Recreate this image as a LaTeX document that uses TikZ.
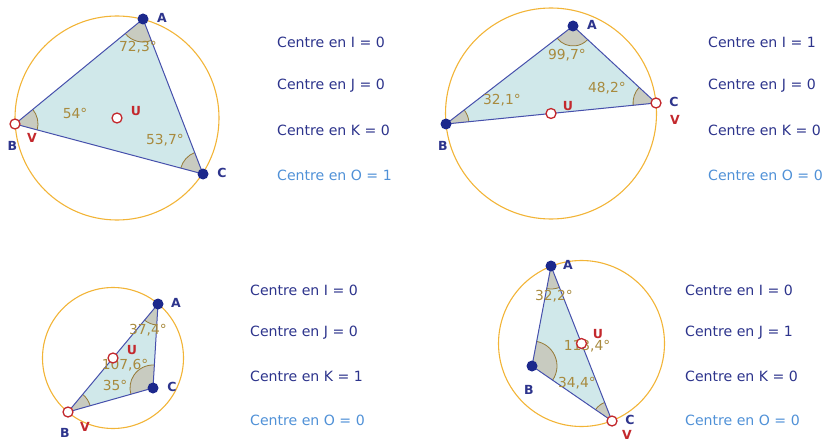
\documentclass[tikz,border=0pt]{standalone}
\usepackage{fontspec}
\setmainfont{DejaVu Sans}
\usetikzlibrary{angles}
\definecolor{navy}{RGB}{45,52,140}
\definecolor{lightb}{RGB}{80,145,215}
\definecolor{redc}{RGB}{195,40,45}
\definecolor{goldc}{RGB}{168,138,62}
\definecolor{orangec}{RGB}{242,180,55}
\definecolor{trifill}{RGB}{208,232,234}
\definecolor{edgec}{RGB}{70,80,172}
\definecolor{angfill}{RGB}{200,203,192}
\definecolor{arcc}{RGB}{150,122,55}
\definecolor{ptc}{RGB}{28,40,140}
\begin{document}
\begin{tikzpicture}[x=1pt,y=-1pt,
  circ/.style={draw=orangec, line width=1.1pt},
  tri/.style={fill=trifill},
  edge/.style={draw=edgec, line width=1pt, line join=round},
  ang/.style={draw=arcc, fill=angfill, angle radius=23pt, line width=0.8pt},
  angtxt/.style={text=goldc, font=\fontsize{13.8}{14}\selectfont, inner sep=0},
  fpt/.style={circle, fill=ptc, minimum size=11pt, inner sep=0},
  opt/.style={circle, draw=redc, fill=white, line width=1.3pt, minimum size=10pt, inner sep=0},
  lab/.style={text=navy, font=\bfseries\fontsize{12.5}{12}\selectfont, inner sep=0},
  rlab/.style={text=redc, font=\bfseries\fontsize{12.5}{12}\selectfont, inner sep=0},
  info/.style={text=navy, anchor=west, inner sep=0, font=\fontsize{14.1}{16}\selectfont},
  infoo/.style={info, text=lightb}]
\useasboundingbox (0,0) rectangle (824,441);

% ---------- top left ----------
\coordinate (A1) at (143,19);
\coordinate (B1) at (15,124);
\coordinate (C1) at (203,174);
\coordinate (U1) at (117,118);
\draw[circ] (U1) circle[radius=102pt];
\fill[tri] (A1) -- (B1) -- (C1) -- cycle;
\pic[ang] {angle = B1--A1--C1};
\pic[ang] {angle = C1--B1--A1};
\pic[ang] {angle = A1--C1--B1};
\draw[edge] (A1) -- (B1) -- (C1) -- cycle;
\node[angtxt] (a1) at (138,47) {72,3°};
\node[angtxt] (b1) at (75,113) {54°};
\node[angtxt] (c1) at (165,140) {53,7°};
\node[fpt] (pA1) at (A1) {};
\node[opt] (pB1) at (B1) {};
\node[fpt] (pC1) at (C1) {};
\node[opt] (pU1) at (U1) {};
\node[lab] (lA1) at (162,18) {A};
\node[lab] (lB1) at (12.5,146) {B};
\node[rlab] (lV1) at (32,138) {V};
\node[rlab] (lU1) at (136,111) {U};
\node[lab] (lC1) at (222,173) {C};
\node[info] (t11) at (277,42) {Centre en I = 0};
\node[info] (t12) at (277,86) {Centre en J = 0};
\node[info] (t13) at (277,130) {Centre en K = 0};
\node[infoo] (t14) at (277,175) {Centre en O = 1};

% ---------- top right ----------
\coordinate (A2) at (573,26);
\coordinate (B2) at (446,124);
\coordinate (C2) at (656,103);
\coordinate (U2) at (551,113.5);
\draw[circ] (U2) circle[radius=105.5pt];
\fill[tri] (A2) -- (B2) -- (C2) -- cycle;
\pic[ang, angle radius=20pt] {angle = B2--A2--C2};
\pic[ang] {angle = C2--B2--A2};
\pic[ang] {angle = A2--C2--B2};
\draw[edge] (A2) -- (B2) -- (C2) -- cycle;
\node[angtxt] (a2) at (567,55) {99,7°};
\node[angtxt] (b2) at (502,100) {32,1°};
\node[angtxt] (c2) at (607,88) {48,2°};
\node[fpt] (pA2) at (A2) {};
\node[fpt] (pB2) at (B2) {};
\node[opt] (pC2) at (C2) {};
\node[opt] (pU2) at (U2) {};
\node[lab] (lA2) at (592,25) {A};
\node[lab] (lB2) at (443,146) {B};
\node[lab] (lC2) at (674,102) {C};
\node[rlab] (lV2) at (675,120) {V};
\node[rlab] (lU2) at (568,106) {U};
\node[info] (t21) at (708,42) {Centre en I = 1};
\node[info] (t22) at (708,86) {Centre en J = 0};
\node[info] (t23) at (708,130) {Centre en K = 0};
\node[infoo] (t24) at (708,175) {Centre en O = 0};

% ---------- bottom left ----------
\coordinate (A3) at (158,304);
\coordinate (B3) at (68,412);
\coordinate (C3) at (153,388);
\coordinate (U3) at (113,358);
\draw[circ] (U3) circle[radius=70.5pt];
\fill[tri] (A3) -- (B3) -- (C3) -- cycle;
\pic[ang, angle radius=21pt] {angle = B3--A3--C3};
\pic[ang] {angle = C3--B3--A3};
\pic[ang] {angle = A3--C3--B3};
\draw[edge] (A3) -- (B3) -- (C3) -- cycle;
\node[angtxt] (a3) at (148,330) {37,4°};
\node[angtxt] (c3) at (125,365) {107,6°};
\node[angtxt] (b3) at (115,385) {35°};
\node[fpt] (pA3) at (A3) {};
\node[opt] (pB3) at (B3) {};
\node[fpt] (pC3) at (C3) {};
\node[opt] (pU3) at (U3) {};
\node[lab] (lA3) at (176,303) {A};
\node[lab] (lB3) at (65,433) {B};
\node[lab] (lC3) at (172,387) {C};
\node[rlab] (lV3) at (85,427) {V};
\node[rlab] (lU3) at (132,350) {U};
\node[info] (t31) at (250,290) {Centre en I = 0};
\node[info] (t32) at (250,333) {Centre en J = 0};
\node[info] (t33) at (250,376) {Centre en K = 1};
\node[infoo] (t34) at (250,420) {Centre en O = 0};

% ---------- bottom right ----------
\coordinate (A4) at (551,266);
\coordinate (B4) at (532,366);
\coordinate (C4) at (612,421);
\coordinate (U4) at (581.5,343.5);
\draw[circ] (U4) circle[radius=83pt];
\fill[tri] (A4) -- (B4) -- (C4) -- cycle;
\pic[ang] {angle = B4--A4--C4};
\pic[ang, angle radius=25pt] {angle = C4--B4--A4};
\pic[ang, angle radius=20pt] {angle = A4--C4--B4};
\draw[edge] (A4) -- (B4) -- (C4) -- cycle;
\node[angtxt] (a4) at (554,296) {32,2°};
\node[angtxt] (b4) at (587,346) {113,4°};
\node[angtxt] (c4) at (577,383) {34,4°};
\node[fpt] (pA4) at (A4) {};
\node[fpt] (pB4) at (B4) {};
\node[opt] (pC4) at (C4) {};
\node[opt] (pU4) at (U4) {};
\node[lab] (lA4) at (568,265) {A};
\node[lab] (lB4) at (529,390) {B};
\node[lab] (lC4) at (630,420) {C};
\node[rlab] (lV4) at (627,435) {V};
\node[rlab] (lU4) at (598,334) {U};
\node[info] (t41) at (685,290) {Centre en I = 0};
\node[info] (t42) at (685,333) {Centre en J = 1};
\node[info] (t43) at (685,376) {Centre en K = 0};
\node[infoo] (t44) at (685,420) {Centre en O = 0};
\end{tikzpicture}
\end{document}
